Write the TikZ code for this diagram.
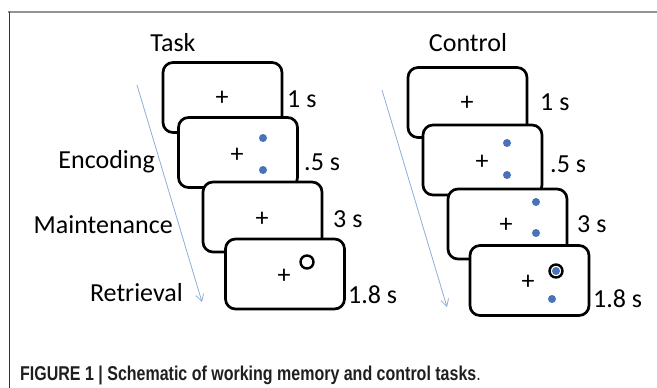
\documentclass[tikz,border=0pt]{standalone}
\usepackage{fontspec}
\setmainfont{Carlito}
\newfontfamily\capfont[FakeStretch=0.8]{Liberation Sans}
\usetikzlibrary{arrows.meta}

\definecolor{dotblue}{HTML}{4A72B8}
\definecolor{arrowblue}{HTML}{8EAED6}

\begin{document}
\begin{tikzpicture}[x=1pt, y=-1pt,
	screen/.style={shape=rectangle, draw=black, fill=white, line width=2.7pt, rounded corners=10pt, minimum width=119pt, minimum height=70pt, inner sep=0pt},
	txt/.style={font=\fontsize{26}{30}\selectfont, inner sep=0pt},
	cross/.style={font=\fontsize{26}{30}\selectfont, inner sep=0pt},
	dot/.style={shape=circle, fill=dotblue, minimum size=8pt, inner sep=0pt},
	ring/.style={shape=circle, draw=black, fill=white, line width=2.4pt, minimum size=13pt, inner sep=0pt},
	timeline/.style={arrowblue, line width=0.8pt, -{Straight Barb[length=7pt, width=8pt]}}
]
	\useasboundingbox (0,0) rectangle (657,388);
	\draw[color=gray!85, line width=1.5pt] (8,12) -- (657,12);
	\draw[color=black!80, line width=1pt]  (9,12) -- (9,388);

	\node[txt, anchor=base] (task)    at (173,52)  {Task};
	\node[txt, anchor=base] (control) at (468,52)  {Control};

	\node[txt, anchor=base east] (enc)  at (155,168) {Encoding};
	\node[txt, anchor=base east] (main) at (173,233) {Maintenance};
	\node[txt, anchor=base east] (ret)  at (183,301) {Retrieval};

	\coordinate (tstart) at (137,85);
	\coordinate (tend)   at (202,302);
	\coordinate (cstart) at (382,90);
	\coordinate (cend)   at (447,307);
	\draw[timeline] (tstart) -- (tend);
	\draw[timeline] (cstart) -- (cend);

	\node[screen] (t1) at (222.5,97.5) {};
	\node[cross]  (t1x) at (222,98) {+};
	\node[screen] (t2) at (238,152.5) {};
	\node[cross]  (t2x) at (237,155) {+};
	\node[dot]    (t2a) at (263,138) {};
	\node[dot]    (t2b) at (263,170) {};
	\node[screen] (t3) at (262.5,217) {};
	\node[cross]  (t3x) at (262,219) {+};
	\node[screen] (t4) at (285,274) {};
	\node[cross]  (t4x) at (284,276) {+};
	\node[ring]   (t4r) at (307,262) {};

	\node[txt, anchor=base west] (t1s) at (287,107) {1 s};
	\node[txt, anchor=base west] (t2s) at (304,170) {.5 s};
	\node[txt, anchor=base west] (t3s) at (333,227) {3 s};
	\node[txt, anchor=base west] (t4s) at (348,303) {1.8 s};

	\node[screen] (c1) at (467.5,102.5) {};
	\node[cross]  (c1x) at (467,103) {+};
	\node[screen] (c2) at (482.5,160) {};
	\node[cross]  (c2x) at (482,162) {+};
	\node[dot]    (c2a) at (507,143) {};
	\node[dot]    (c2b) at (507,175) {};
	\node[screen] (c3) at (507.5,224) {};
	\node[cross]  (c3x) at (506,225) {+};
	\node[dot]    (c3a) at (536,202) {};
	\node[dot]    (c3b) at (536,233) {};
	\node[screen] (c4) at (529.5,280.5) {};
	\node[cross]  (c4x) at (528,282) {+};
	\node[ring]   (c4r) at (556,271) {};
	\node[dot]    (c4a) at (556,271) {};
	\node[dot]    (c4b) at (552,299) {};

	\node[txt, anchor=base west] (c1s) at (540,110) {1 s};
	\node[txt, anchor=base west] (c2s) at (550,172) {.5 s};
	\node[txt, anchor=base west] (c3s) at (577,232) {3 s};
	\node[txt, anchor=base west] (c4s) at (593,307) {1.8 s};

	\node[anchor=base west, inner sep=0pt, text=black!88, font=\capfont\bfseries\fontsize{20}{24}\selectfont] (cap) at (20,380) {FIGURE 1 | Schematic of working memory and control tasks\textmd{.}};
\end{tikzpicture}
\end{document}
